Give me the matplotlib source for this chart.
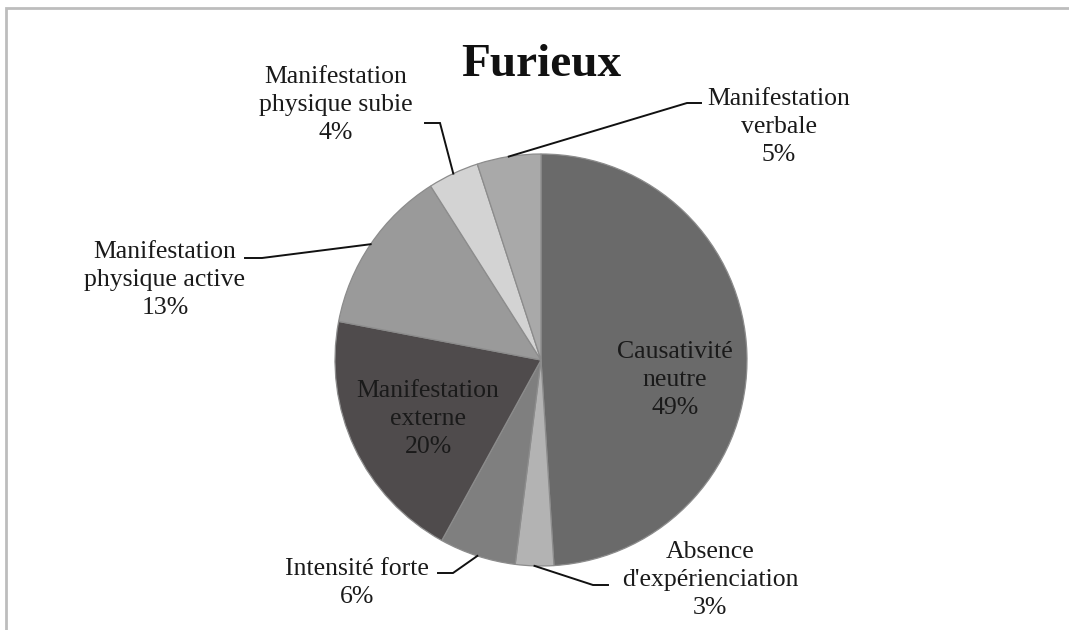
import numpy as np
import matplotlib.pyplot as plt
from matplotlib.patches import Rectangle

# slices, clockwise from 12 o'clock
labels = ["Causativité\nneutre", "Absence\nd'expérienciation", "Intensité forte",
          "Manifestation\nexterne", "Manifestation\nphysique active",
          "Manifestation\nphysique subie", "Manifestation\nverbale"]
values = [49, 3, 6, 20, 13, 4, 5]
colors = ["#6a6a6a", "#b3b3b3", "#7f7f7f", "#4f4b4c", "#9a9a9a", "#d3d3d3", "#a9a9a9"]

W, H = 1069, 630
cx, cy, R = 541, H - 360, 206

plt.rcParams['font.family'] = ['Liberation Serif', 'DejaVu Serif']

fig = plt.figure(figsize=(W / 100, H / 100), dpi=100)
ax = fig.add_axes([0, 0, 1, 1])

wedges, _ = ax.pie(values, colors=colors, startangle=90, counterclock=False,
                   center=(cx, cy), radius=R,
                   wedgeprops=dict(edgecolor="#8c8c8c", linewidth=0.9))

ax.set_xlim(0, W)
ax.set_ylim(0, H)
ax.set_aspect("equal")
ax.axis("off")

# chart frame (cut off at right and bottom)
fig.patches.append(Rectangle((6 / W, -0.1), 1.2, (H - 8) / H + 0.1, transform=fig.transFigure,
                             fill=False, edgecolor="#bdbdbd", linewidth=2))

ax.text(cx, H - 65, "Furieux", ha="center", va="center", fontsize=34,
        fontweight="bold", color="#111111")

txt = dict(ha="center", va="center", fontsize=18.5, linespacing=1.38, color="#1a1a1a")

def pct(i):
    return f"{labels[i]}\n{values[i]}%"

# inside labels
ax.text(675, H - 380, pct(0), **txt)
ax.text(428, H - 419, pct(3), **txt)

# outside labels: (index, label centre, elbow, end of horizontal stub) in pixels
outside = [
    (6, (779, 127), (687, 103), (701, 103)),
    (5, (336, 105), (440, 123), (425, 123)),
    (4, (165, 280), (262, 258), (245, 258)),
    (2, (357, 583), (453, 573), (438, 573)),
    (1, (710, 580), (593, 585), (608, 585)),
]

total = sum(values)
cum = np.cumsum([0] + values)
for i, (lx, ly), (ex, ey), (sx, sy) in outside:
    mid = 90 - 360 * (cum[i] + values[i] / 2) / total
    ax_ = cx + R * np.cos(np.radians(mid))
    ay_ = cy + R * np.sin(np.radians(mid))
    ax.plot([ax_, ex, sx], [ay_, H - ey, H - sy], color="#111111", lw=1.4,
            solid_joinstyle="miter")
    ax.text(lx, H - ly, pct(i), **txt)

fig.savefig("out.png", dpi=100)
